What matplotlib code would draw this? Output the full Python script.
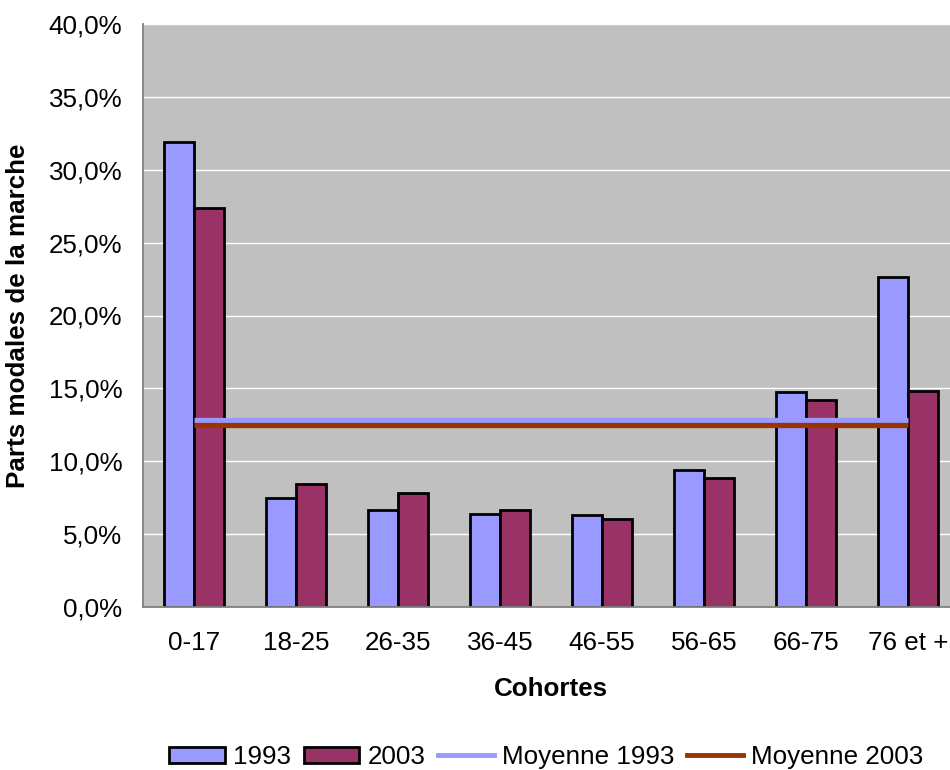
import numpy as np
import matplotlib
matplotlib.use("Agg")
import matplotlib.pyplot as plt
from matplotlib.patches import Patch
from matplotlib.lines import Line2D
from matplotlib.ticker import FuncFormatter, MultipleLocator

plt.rcParams['font.family'] = ['Liberation Sans', 'DejaVu Sans']

# parts modales de la marche par cohorte (%)
cohortes = ["0-17", "18-25", "26-35", "36-45", "46-55", "56-65", "66-75", "76 et +"]
parts_1993 = [31.9, 7.45, 6.63, 6.36, 6.33, 9.42, 14.72, 22.65]
parts_2003 = [27.4, 8.44, 7.84, 6.65, 6.06, 8.85, 14.20, 14.84]
moyenne_1993 = 12.86
moyenne_2003 = 12.48

col_1993 = "#9999FF"
col_2003 = "#993366"
col_moy_2003 = "#993300"
fs = 18.7

fig = plt.figure(figsize=(9.5, 7.7), dpi=100)
# la zone de tracé déborde à droite, comme dans le graphique d'origine
ax = fig.add_axes([143 / 950, 1 - 607 / 770, 816 / 950, 583 / 770])
ax.set_facecolor("#C0C0C0")

x = np.arange(len(cohortes))
w = 0.29
ax.bar(x - w / 2, parts_1993, w, color=col_1993, edgecolor="black", linewidth=2.0, zorder=2)
ax.bar(x + w / 2, parts_2003, w, color=col_2003, edgecolor="black", linewidth=2.0, zorder=2)

# moyennes tracées d'un centre de catégorie à l'autre
ax.plot([x[0], x[-1]], [moyenne_1993] * 2, color=col_1993, linewidth=3.8, zorder=3,
        solid_capstyle="butt")
ax.plot([x[0], x[-1]], [moyenne_2003] * 2, color=col_moy_2003, linewidth=3.8, zorder=3,
        solid_capstyle="butt")

ax.set_xlim(-0.5, len(cohortes) - 0.5)
ax.set_ylim(0, 40)
ax.yaxis.set_major_locator(MultipleLocator(5))
ax.yaxis.set_major_formatter(FuncFormatter(lambda v, p: f"{v:.1f}%".replace(".", ",")))
ax.grid(axis="y", color="white", linewidth=1.0)
ax.set_axisbelow(True)

ax.set_xticks(x)
ax.set_xticklabels(cohortes)
ax.tick_params(axis="x", length=0, pad=17, labelsize=fs)
ax.tick_params(axis="y", length=0, pad=15, labelsize=fs)

for s in ["top", "right"]:
    ax.spines[s].set_visible(False)
for s in ["left", "bottom"]:
    ax.spines[s].set_color("#808080")
    ax.spines[s].set_linewidth(1.3)

ax.set_xlabel("Cohortes", fontsize=fs, fontweight="bold", labelpad=16)
ax.set_ylabel("Parts modales de la marche", fontsize=fs, fontweight="bold", labelpad=13)

handles = [
    Patch(facecolor=col_1993, edgecolor="black", linewidth=2.0),
    Patch(facecolor=col_2003, edgecolor="black", linewidth=2.0),
    Line2D([], [], color=col_1993, linewidth=3.5),
    Line2D([], [], color=col_moy_2003, linewidth=3.5),
]
labels = ["1993", "2003", "Moyenne 1993", "Moyenne 2003"]
fig.legend(handles, labels, loc="center", bbox_to_anchor=(546 / 950, 1 - 757 / 770),
           ncol=4, frameon=False, fontsize=fs, handlelength=2.15, handleheight=0.6,
           handletextpad=0.3, columnspacing=0.5)

fig.savefig("out.png", dpi=100)
